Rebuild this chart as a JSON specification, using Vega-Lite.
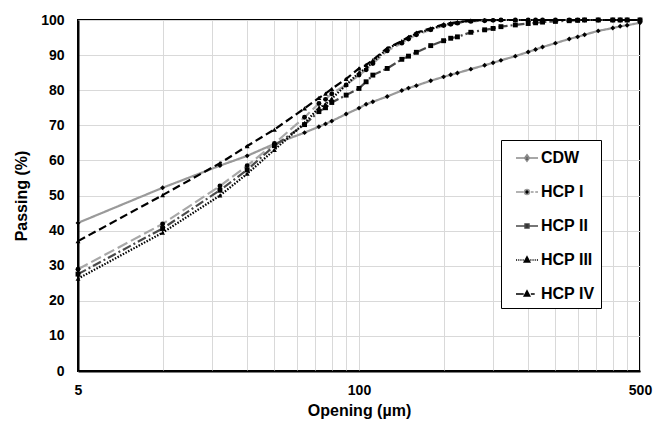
{
"$schema": "https://vega.github.io/schema/vega-lite/v6.json",
"width": 562, "height": 351,
"autosize": {"type": "none"},
"padding": {"left": 78, "top": 20, "right": 14, "bottom": 50},
"background": "white",
"config": {
  "font": "Liberation Sans",
  "view": {"stroke": "black", "strokeWidth": 2},
  "axis": {"gridColor": "#d9d9d9", "gridWidth": 1, "domainColor": "black", "domainWidth": 2, "ticks": false,
    "labelFont": "Liberation Sans", "labelFontSize": 14, "labelFontWeight": "bold", "labelColor": "black",
    "titleFont": "Liberation Sans", "titleFontSize": 16, "titleFontWeight": "bold", "titleColor": "black"}
},
"datasets": {"pts": [
{"x":1,"s":"CDW","y":42.2},{"x":2,"s":"CDW","y":52.2},{"x":3.2,"s":"CDW","y":58.5},{"x":4,"s":"CDW","y":61.3},{"x":5,"s":"CDW","y":64.7},{"x":6.4,"s":"CDW","y":67.9},{"x":7.2,"s":"CDW","y":69.6},{"x":7.6,"s":"CDW","y":70.4},{"x":8,"s":"CDW","y":71.2},{"x":9,"s":"CDW","y":73.2},{"x":10,"s":"CDW","y":74.9},{"x":10.6,"s":"CDW","y":76},{"x":11.2,"s":"CDW","y":76.7},{"x":12.6,"s":"CDW","y":78.2},{"x":14.2,"s":"CDW","y":79.9},{"x":15,"s":"CDW","y":80.6},{"x":16,"s":"CDW","y":81.3},{"x":18,"s":"CDW","y":82.7},{"x":20,"s":"CDW","y":83.8},{"x":21.2,"s":"CDW","y":84.4},{"x":22.4,"s":"CDW","y":84.9},{"x":25,"s":"CDW","y":86},{"x":28,"s":"CDW","y":87.1},{"x":30,"s":"CDW","y":87.8},{"x":32,"s":"CDW","y":88.5},{"x":36,"s":"CDW","y":89.7},{"x":40,"s":"CDW","y":90.9},{"x":42.5,"s":"CDW","y":91.6},{"x":45,"s":"CDW","y":92.3},{"x":50,"s":"CDW","y":93.4},{"x":56,"s":"CDW","y":94.6},{"x":60,"s":"CDW","y":95.2},{"x":63.5,"s":"CDW","y":95.8},{"x":71,"s":"CDW","y":96.9},{"x":80,"s":"CDW","y":97.7},{"x":85,"s":"CDW","y":98.2},{"x":90,"s":"CDW","y":98.5},{"x":100,"s":"CDW","y":99.2},
{"x":1,"s":"HCP I","y":29.0},{"x":2,"s":"HCP I","y":41.9},{"x":3.2,"s":"HCP I","y":52.7},{"x":4,"s":"HCP I","y":58.5},{"x":5,"s":"HCP I","y":64.8},{"x":6.4,"s":"HCP I","y":72.3},{"x":7.2,"s":"HCP I","y":76.2},{"x":7.6,"s":"HCP I","y":77.4},{"x":8,"s":"HCP I","y":79.0},{"x":9,"s":"HCP I","y":81.5},{"x":10,"s":"HCP I","y":84.3},{"x":10.6,"s":"HCP I","y":85.8},{"x":11.2,"s":"HCP I","y":87.6},{"x":12.6,"s":"HCP I","y":91.2},{"x":14.2,"s":"HCP I","y":93.4},{"x":15,"s":"HCP I","y":94.6},{"x":16,"s":"HCP I","y":95.8},{"x":18,"s":"HCP I","y":97.2},{"x":20,"s":"HCP I","y":98.4},{"x":21.2,"s":"HCP I","y":98.8},{"x":22.4,"s":"HCP I","y":99.1},{"x":25,"s":"HCP I","y":99.6},{"x":28,"s":"HCP I","y":99.8},{"x":30,"s":"HCP I","y":99.9},{"x":32,"s":"HCP I","y":100},{"x":36,"s":"HCP I","y":100},{"x":40,"s":"HCP I","y":100},{"x":42.5,"s":"HCP I","y":100},{"x":45,"s":"HCP I","y":100},{"x":50,"s":"HCP I","y":100},{"x":56,"s":"HCP I","y":100},{"x":60,"s":"HCP I","y":100},{"x":63.5,"s":"HCP I","y":100},{"x":71,"s":"HCP I","y":100},{"x":80,"s":"HCP I","y":100},{"x":85,"s":"HCP I","y":100},{"x":90,"s":"HCP I","y":100},{"x":100,"s":"HCP I","y":100},
{"x":1,"s":"HCP II","y":27.6},{"x":2,"s":"HCP II","y":40.6},{"x":3.2,"s":"HCP II","y":51.5},{"x":4,"s":"HCP II","y":57.3},{"x":5,"s":"HCP II","y":64.2},{"x":6.4,"s":"HCP II","y":70.2},{"x":7.2,"s":"HCP II","y":73.9},{"x":7.6,"s":"HCP II","y":75.0},{"x":8,"s":"HCP II","y":76.5},{"x":9,"s":"HCP II","y":78.6},{"x":10,"s":"HCP II","y":80.5},{"x":10.6,"s":"HCP II","y":82.4},{"x":11.2,"s":"HCP II","y":84.3},{"x":12.6,"s":"HCP II","y":86.2},{"x":14.2,"s":"HCP II","y":88.8},{"x":15,"s":"HCP II","y":89.7},{"x":16,"s":"HCP II","y":90.8},{"x":18,"s":"HCP II","y":92.7},{"x":20,"s":"HCP II","y":94.1},{"x":21.2,"s":"HCP II","y":94.8},{"x":22.4,"s":"HCP II","y":95.2},{"x":25,"s":"HCP II","y":96.5},{"x":28,"s":"HCP II","y":97.2},{"x":30,"s":"HCP II","y":97.6},{"x":32,"s":"HCP II","y":98.1},{"x":36,"s":"HCP II","y":98.6},{"x":40,"s":"HCP II","y":99.0},{"x":42.5,"s":"HCP II","y":99.2},{"x":45,"s":"HCP II","y":99.4},{"x":50,"s":"HCP II","y":99.6},{"x":56,"s":"HCP II","y":99.8},{"x":60,"s":"HCP II","y":99.9},{"x":63.5,"s":"HCP II","y":100},{"x":71,"s":"HCP II","y":100},{"x":80,"s":"HCP II","y":100},{"x":85,"s":"HCP II","y":100},{"x":90,"s":"HCP II","y":100},{"x":100,"s":"HCP II","y":100},
{"x":1,"s":"HCP III","y":26.3},{"x":2,"s":"HCP III","y":39.4},{"x":3.2,"s":"HCP III","y":50.0},{"x":4,"s":"HCP III","y":56.2},{"x":5,"s":"HCP III","y":63.0},{"x":6.4,"s":"HCP III","y":70.6},{"x":7.2,"s":"HCP III","y":75.0},{"x":7.6,"s":"HCP III","y":76.0},{"x":8,"s":"HCP III","y":77.6},{"x":9,"s":"HCP III","y":81.5},{"x":10,"s":"HCP III","y":85.0},{"x":10.6,"s":"HCP III","y":86.2},{"x":11.2,"s":"HCP III","y":88.0},{"x":12.6,"s":"HCP III","y":91.8},{"x":14.2,"s":"HCP III","y":93.8},{"x":15,"s":"HCP III","y":95.0},{"x":16,"s":"HCP III","y":96.2},{"x":18,"s":"HCP III","y":97.4},{"x":20,"s":"HCP III","y":98.6},{"x":21.2,"s":"HCP III","y":99.0},{"x":22.4,"s":"HCP III","y":99.3},{"x":25,"s":"HCP III","y":99.8},{"x":28,"s":"HCP III","y":100},{"x":30,"s":"HCP III","y":100},{"x":32,"s":"HCP III","y":100},{"x":36,"s":"HCP III","y":100},{"x":40,"s":"HCP III","y":100},{"x":42.5,"s":"HCP III","y":100},{"x":45,"s":"HCP III","y":100},{"x":50,"s":"HCP III","y":100},{"x":56,"s":"HCP III","y":100},{"x":60,"s":"HCP III","y":100},{"x":63.5,"s":"HCP III","y":100},{"x":71,"s":"HCP III","y":100},{"x":80,"s":"HCP III","y":100},{"x":85,"s":"HCP III","y":100},{"x":90,"s":"HCP III","y":100},{"x":100,"s":"HCP III","y":100},
{"x":1,"s":"HCP IV","y":37.0},{"x":2,"s":"HCP IV","y":50.1},{"x":3.2,"s":"HCP IV","y":59.2},{"x":4,"s":"HCP IV","y":64.1},{"x":5,"s":"HCP IV","y":68.8},{"x":6.4,"s":"HCP IV","y":74.8},{"x":7.2,"s":"HCP IV","y":77.8},{"x":7.6,"s":"HCP IV","y":79.0},{"x":8,"s":"HCP IV","y":80.4},{"x":9,"s":"HCP IV","y":83.2},{"x":10,"s":"HCP IV","y":86.2},{"x":10.6,"s":"HCP IV","y":87.2},{"x":11.2,"s":"HCP IV","y":88.6},{"x":12.6,"s":"HCP IV","y":92.0},{"x":14.2,"s":"HCP IV","y":94.0},{"x":15,"s":"HCP IV","y":95.2},{"x":16,"s":"HCP IV","y":96.4},{"x":18,"s":"HCP IV","y":97.6},{"x":20,"s":"HCP IV","y":98.8},{"x":21.2,"s":"HCP IV","y":99.1},{"x":22.4,"s":"HCP IV","y":99.4},{"x":25,"s":"HCP IV","y":99.8},{"x":28,"s":"HCP IV","y":100},{"x":30,"s":"HCP IV","y":100},{"x":32,"s":"HCP IV","y":100},{"x":36,"s":"HCP IV","y":100},{"x":40,"s":"HCP IV","y":100},{"x":42.5,"s":"HCP IV","y":100},{"x":45,"s":"HCP IV","y":100},{"x":50,"s":"HCP IV","y":100},{"x":56,"s":"HCP IV","y":100},{"x":60,"s":"HCP IV","y":100},{"x":63.5,"s":"HCP IV","y":100},{"x":71,"s":"HCP IV","y":100},{"x":80,"s":"HCP IV","y":100},{"x":85,"s":"HCP IV","y":100},{"x":90,"s":"HCP IV","y":100},{"x":100,"s":"HCP IV","y":100}
]},
"data": {"name": "pts"},
"encoding": {
  "x": {"field": "x", "type": "quantitative",
    "scale": {"type": "log", "domain": [1, 100]},
    "axis": {"values": [1,2,3,4,5,6,7,8,9,10,20,30,40,50,60,70,80,90,100],
      "labelExpr": "datum.value == 1 ? '5' : (datum.value == 10 ? '100' : (datum.value == 100 ? '500' : ''))",
      "labelFlush": false, "labelOverlap": false, "labelPadding": 12, "title": "Opening (µm)", "titlePadding": 5}},
  "y": {"field": "y", "type": "quantitative",
    "scale": {"domain": [0, 100]},
    "axis": {"values": [0,10,20,30,40,50,60,70,80,90,100], "labelPadding": 14, "title": "Passing (%)", "titlePadding": 11}}
},
"layer": [
  {"mark": {"type": "line", "strokeWidth": 2.2},
   "encoding": {
     "color": {"field": "s", "type": "nominal",
       "scale": {"domain": ["CDW","HCP I","HCP II","HCP III","HCP IV"], "range": ["#9a9a9a","#a8a8a8","#4a4a4a","#000000","#000000"]},
       "legend": null},
     "strokeDash": {"field": "s", "type": "nominal",
       "scale": {"domain": ["CDW","HCP I","HCP II","HCP III","HCP IV"], "range": [[1,0],[11,4],[9,3,2,3],[1.5,1.5],[8,4]]},
       "legend": null}
   }},
  {"mark": {"type": "point", "filled": true, "fill": "black", "color": "black", "size": 24, "opacity": 1},
   "encoding": {
     "shape": {"field": "s", "type": "nominal",
       "scale": {"domain": ["CDW","HCP I","HCP II","HCP III","HCP IV"], "range": ["diamond","circle","square","triangle-up","triangle-up"]},
       "legend": null}
   }},
  {"mark": {"type": "point", "filled": true, "fill": "black", "size": 0, "opacity": 1},
   "encoding": {
     "shape": {"field": "s", "type": "nominal",
       "scale": {"domain": ["CDW","HCP I","HCP II","HCP III","HCP IV"],
         "range": [
           "M-1,0H1M0,-0.3L0.22,0L0,0.3L-0.22,0Z",
           "M-1,0H-0.3M0.35,0H0.6M0.75,0H1M0.22,0A0.22,0.22,0,1,1,-0.22,0A0.22,0.22,0,1,1,0.22,0Z",
           "M-1,0H1M-0.18,-0.18H0.18V0.18H-0.18Z",
           "M-1,0H-0.9M-0.8,0H-0.7M-0.6,0H-0.5M-0.4,0H-0.3M0.3,0H0.4M0.5,0H0.6M0.7,0H0.8M0.9,0H1M0,-0.28L0.25,0.18L-0.25,0.18Z",
           "M-1,0H-0.3M0.35,0H0.7M0,-0.28L0.25,0.18L-0.25,0.18Z"
         ]},
       "legend": {"title": null, "orient": "none", "legendX": 423, "legendY": 120,
         "strokeColor": "black", "fillColor": "white", "padding": 6, "rowPadding": 14,
         "symbolSize": 484, "symbolStrokeWidth": 1.5, "symbolFillColor": "black", "symbolOffset": 8,
         "labelFont": "Liberation Sans", "labelFontSize": 16, "labelFontWeight": "bold", "labelColor": "black",
         "labelOffset": 2, "labelExpr": "datum.label + '    '"}},
     "stroke": {"field": "s", "type": "nominal",
       "scale": {"domain": ["CDW","HCP I","HCP II","HCP III","HCP IV"], "range": ["#8a8a8a","#9a9a9a","#4a4a4a","#000000","#000000"]},
       "legend": {"title": null, "orient": "none", "legendX": 423, "legendY": 120,
         "strokeColor": "black", "fillColor": "white", "padding": 6, "rowPadding": 14,
         "symbolSize": 484, "symbolStrokeWidth": 1.5, "symbolFillColor": "black", "symbolOffset": 8,
         "labelFont": "Liberation Sans", "labelFontSize": 16, "labelFontWeight": "bold", "labelColor": "black",
         "labelOffset": 2, "labelExpr": "datum.label + '    '"}}
   }}
],
"resolve": {"scale": {"shape": "independent", "stroke": "independent"}}
}
